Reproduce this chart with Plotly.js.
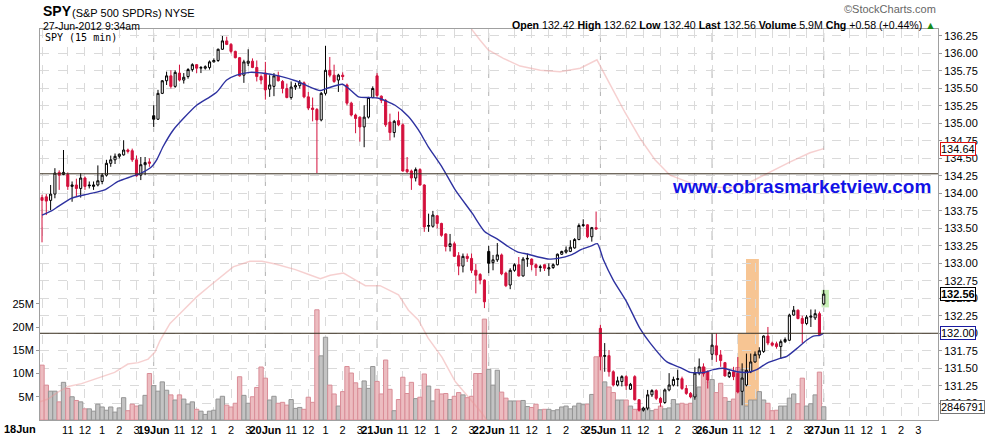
<!DOCTYPE html>
<html><head><meta charset="utf-8">
<script src="https://cdn.plot.ly/plotly-3.0.1.min.js"></script>
<style>html,body{margin:0;padding:0;background:#fff;}#chart{width:990px;height:438px;}</style>
</head><body><div id="chart"></div>
<script>
// ---------- categories / labels ----------
const dayLabels = ['18Jun','19Jun','20Jun','21Jun','22Jun','25Jun','26Jun','27Jun'];
const hourLabels = ['11','12','1','2','3'];
const hourClock = [11,12,13,14,15];
const barsPerDay = 26;
const barMinutes = 15;
const sessionOpenMin = 570; // 9:30
const volTicks = [5,10,15,20,25];

// ---------- 15-min OHLC (USD) ----------
const open18 = [133.94,133.95,133.90,133.99,134.30,134.27,134.27,134.10,134.12,134.07,134.22,134.12,134.10,134.12,134.17,134.26,134.43,134.48,134.53,134.55,134.62,134.61,134.48,134.26,134.41,134.45];
const high18 = [133.98,133.99,134.12,134.36,134.33,134.62,134.30,134.17,134.21,134.29,134.24,134.17,134.17,134.40,134.29,134.48,134.54,134.57,134.57,134.76,134.64,134.64,134.54,134.52,134.52,134.50];
const low18  = [133.30,133.69,133.76,133.93,134.05,134.26,134.05,133.88,133.95,133.94,134.05,134.07,134.05,134.10,134.13,134.24,134.38,134.42,134.50,134.54,134.57,134.45,134.24,134.19,134.26,134.38];
const close18= [133.90,133.89,133.99,134.29,134.26,134.30,134.10,134.12,134.07,134.22,134.10,134.11,134.12,134.18,134.26,134.43,134.48,134.53,134.56,134.62,134.60,134.48,134.25,134.41,134.44,134.43];

const open19 = [135.11,135.06,135.43,135.61,135.68,135.53,135.72,135.62,135.67,135.77,135.84,135.79,135.79,135.80,135.88,135.90,136.06,136.18,136.13,136.03,135.94,135.69,135.86,135.89,135.80,135.67];
const high19 = [135.26,135.48,135.62,135.74,135.76,135.76,135.84,135.72,135.79,135.86,135.85,135.82,135.83,135.90,135.93,136.07,136.25,136.24,136.15,136.04,135.95,135.91,136.06,135.93,135.90,135.70];
const low19  = [134.95,135.05,135.42,135.55,135.50,135.51,135.60,135.57,135.64,135.74,135.72,135.72,135.77,135.77,135.87,135.88,136.05,136.12,136.00,135.93,135.67,135.58,135.82,135.79,135.60,135.56];
const close19= [135.06,135.43,135.61,135.68,135.53,135.73,135.62,135.66,135.77,135.84,135.79,135.80,135.81,135.88,135.90,136.06,136.18,136.13,136.03,135.94,135.68,135.88,135.89,135.80,135.67,135.62];

const open20 = [135.72,135.49,135.53,135.68,135.60,135.50,135.37,135.52,135.54,135.58,135.38,135.22,135.20,135.05,135.43,135.76,135.69,135.62,135.69,135.55,135.29,135.12,135.09,134.95,135.09,135.37];
const high20 = [135.88,135.69,135.72,135.74,135.62,135.57,135.60,135.58,135.62,135.60,135.45,135.37,135.22,135.45,136.11,135.95,135.84,135.71,135.73,135.57,135.31,135.14,135.10,135.26,135.38,135.53];
const low20  = [135.34,135.38,135.39,135.60,135.43,135.36,135.34,135.48,135.50,135.36,135.19,135.03,134.29,135.03,135.40,135.66,135.58,135.45,135.62,135.26,135.10,134.86,134.74,134.66,135.07,135.36];
const close20= [135.48,135.55,135.68,135.61,135.50,135.37,135.52,135.54,135.59,135.38,135.22,135.20,135.05,135.43,135.76,135.69,135.60,135.69,135.67,135.29,135.12,135.07,134.95,135.09,135.37,135.50];

const open21 = [135.68,135.39,135.33,135.02,134.87,135.04,134.98,134.34,134.32,134.22,134.34,134.12,133.53,133.53,133.68,133.57,133.42,133.24,133.28,133.11,132.96,133.10,133.07,132.90,132.84,132.76];
const high21 = [135.72,135.40,135.35,135.14,135.05,135.17,135.00,134.52,134.34,134.37,134.36,134.13,133.71,133.75,133.69,133.58,133.43,133.42,133.31,133.16,133.14,133.14,133.14,132.99,132.86,132.77];
const low21  = [135.36,135.29,134.95,134.76,134.80,134.96,134.31,134.29,134.05,134.17,134.11,133.45,133.45,133.51,133.50,133.38,133.17,133.17,133.09,132.83,132.87,133.02,132.86,132.57,132.70,132.36];
const close21= [135.40,135.33,134.98,134.87,135.03,134.98,134.32,134.31,134.22,134.34,134.12,133.52,133.54,133.69,133.57,133.40,133.24,133.28,133.10,132.96,133.10,133.07,132.90,132.83,132.76,132.45];

const open22 = [133.17,133.01,133.05,133.12,132.86,132.69,132.90,132.98,132.82,133.06,133.06,132.98,132.94,132.98,132.92,132.94,132.98,133.13,133.16,133.17,133.22,133.34,133.54,133.55,133.38,133.51];
const high22 = [133.25,133.12,133.29,133.14,132.88,132.93,133.00,133.09,133.09,133.14,133.07,133.00,132.98,132.98,133.00,133.00,133.14,133.18,133.24,133.33,133.36,133.57,133.63,133.56,133.52,133.74];
const low22  = [132.86,132.90,133.02,132.83,132.66,132.63,132.88,132.81,132.81,132.95,132.90,132.82,132.88,132.89,132.82,132.92,132.97,133.12,133.14,133.16,133.21,133.33,133.52,133.36,133.31,133.48];
const close22= [133.00,133.05,133.12,132.85,132.68,132.90,132.98,132.82,133.06,133.07,132.98,132.94,132.95,132.93,132.935,132.98,133.13,133.17,133.19,133.23,133.34,133.54,133.55,133.38,133.51,133.49];

const open25 = [132.07,131.67,131.68,131.45,131.26,131.31,131.38,131.20,131.38,131.05,130.90,130.93,131.12,131.18,131.07,131.01,131.19,131.26,131.34,131.35,131.21,131.14,131.09,131.43,131.52,131.45];
const high25 = [132.12,131.86,131.76,131.47,131.38,131.40,131.40,131.29,131.40,131.06,130.95,131.19,131.20,131.20,131.09,131.21,131.43,131.38,131.48,131.38,131.26,131.16,131.52,131.64,131.57,131.47];
const low25  = [131.47,131.45,131.38,131.24,131.24,131.24,131.19,131.19,131.04,130.88,130.88,130.90,131.09,131.045,130.95,130.99,131.17,131.24,131.24,131.19,131.12,131.07,131.05,131.40,131.38,131.21];
const close25= [131.67,131.68,131.45,131.26,131.32,131.38,131.25,131.27,131.05,130.90,130.93,131.12,131.18,131.07,131.01,131.19,131.26,131.34,131.35,131.21,131.14,131.09,131.43,131.52,131.42,131.33];

const open26 = [131.70,131.82,131.69,131.58,131.38,131.45,131.43,131.17,131.26,131.45,131.59,131.69,131.74,131.96,131.86,131.85,131.81,131.88,131.90,132.26,132.33,132.21,132.14,132.23,132.22,132.28];
const high26 = [132.00,132.00,131.76,131.59,131.47,131.52,131.66,131.57,131.71,131.71,131.74,131.80,131.97,132.09,131.88,131.88,131.91,131.94,132.28,132.39,132.34,132.25,132.26,132.34,132.34,132.31];
const low26  = [131.62,131.59,131.52,131.38,131.36,131.33,131.14,130.97,131.24,131.43,131.58,131.64,131.72,131.83,131.81,131.78,131.64,131.86,131.89,132.25,132.20,131.86,132.12,132.09,132.19,131.97];
const close26= [131.83,131.69,131.61,131.39,131.44,131.38,131.16,131.36,131.47,131.59,131.70,131.75,131.96,131.86,131.83,131.81,131.88,131.91,132.26,132.33,132.21,132.14,132.23,132.245,132.28,131.98];

const open27 = [132.42];
const high27 = [132.62];
const low27  = [132.40];
const close27= [132.56];

// ---------- volume (millions of shares) ----------
const vol18 = [11.8,7.5,6.2,6.2,3.9,8.1,6.8,5.0,4.2,3.9,2.4,2.4,1.9,3.4,2.8,2.1,2.8,1.7,2.6,4.8,2.0,3.4,3.0,3.2,5.3,10.0];
const vol19 = [7.4,6.2,8.2,6.4,5.4,4.3,5.4,4.5,3.4,3.9,2.3,1.9,1.2,1.9,2.1,4.5,5.1,3.2,2.8,3.6,9.3,5.3,3.6,5.0,7.0,11.4];
const vol20 = [9.0,4.3,5.1,3.6,3.8,3.2,4.4,2.5,2.7,2.3,4.9,3.8,23.7,13.8,17.8,7.5,5.6,3.0,6.1,11.5,10.1,8.0,6.8,8.4,6.8,11.5];
const vol21 = [8.3,5.6,12.9,6.6,2.0,4.4,9.2,5.7,8.1,4.6,4.9,9.9,7.3,4.1,6.6,5.6,5.7,4.4,5.1,5.9,5.4,4.8,5.1,10.0,10.0,21.7];
const vol22 = [10.9,7.5,10.7,6.0,4.7,4.1,4.1,4.1,4.2,2.9,2.7,3.4,2.2,2.3,2.3,2.0,2.2,2.8,3.0,2.4,3.0,3.6,3.3,3.4,5.5,13.6];
const vol25 = [13.6,8.2,7.1,5.9,4.3,4.3,4.3,3.0,2.3,2.3,2.4,2.6,2.0,2.3,3.0,2.4,2.6,4.4,3.4,3.6,3.4,3.6,5.4,7.1,11.3,8.2];
const vol26 = [8.7,5.9,7.9,4.8,4.0,4.5,11.3,10.8,3.0,4.3,4.3,6.1,4.3,3.6,2.0,2.1,3.0,3.0,4.7,5.6,3.5,9.0,3.0,3.5,5.4,10.3];
const vol27 = [2.846791];

// ---------- moving average (bar index, price) ----------
const maBar   = [0,2.2,3.7,6.8,10.7,14.6,17.7,20.8,23.1,25.5,26.8,28.2,30.6,32.9,36.0,39.1,40.7,43.0,45.3,48.4,51.2,55.1,59.0,61.3,64.8,66.8,69.9,71.4,73.7,76.1,78.4,82.2,85.3,87.6,89.9,93.1,96.2,100.1,103.1,106.2,108.5,110.8,113.2,115.5,118.2,120.1,123.2,125.6,127.9,129.3,130.7,133.0,136.1,139.2,141.6,145.5,148.6,150.9,154.0,156.3,158.6,161.8,164.1,166.4,168.7,171.8,173.4,175.7,178.0,179.6,181.1,182];
const maPrice = [133.69,133.75,133.81,133.93,133.99,134.05,134.17,134.24,134.29,134.38,134.49,134.67,134.91,135.07,135.26,135.38,135.45,135.62,135.69,135.73,135.72,135.68,135.61,135.55,135.47,135.51,135.56,135.50,135.38,135.37,135.36,135.26,135.10,134.91,134.67,134.38,134.05,133.72,133.45,133.34,133.24,133.16,133.13,133.09,133.06,133.07,133.12,133.20,133.25,133.28,133.05,132.76,132.45,132.07,131.86,131.59,131.51,131.44,131.44,131.48,131.50,131.45,131.44,131.48,131.57,131.64,131.67,131.78,131.90,131.96,131.97,132.00];

// ---------- pink overlay line (bar index, price) ----------
const pinkLoBar   = [-0.5,1.4,3.7,6.1,9.2,13.0,16.9,20.0,22.4,24.7,26.3,27.5,29.8,32.9,36.0,39.1,42.2,44.5,48.4,51.2,54.3,59.0,62.1,64.8,67.1,70.2,73.0,75.3,78.7,83.0,85.3,87.6,89.9,93.1,96.2,99.3,102.4,104.3];
const pinkLoPrice = [131.02,131.06,131.16,131.24,131.28,131.36,131.44,131.56,131.58,131.63,131.73,131.90,132.14,132.33,132.52,132.68,132.83,132.95,133.03,133.03,132.99,132.91,132.84,132.78,132.83,132.86,132.76,132.68,132.68,132.55,132.33,132.19,131.93,131.66,131.31,131.09,130.86,130.69];
const pinkHiBar   = [99.2,100.1,102.0,103.9,107.4,111.3,116.0,120.6,125.3,129.2,132.3,135.7,139.2,142.7,146.2,150.9,155.5,160.2,164.8,169.5,174.2,178.8,182];
const pinkHiPrice = [136.48,136.34,136.19,136.05,135.93,135.82,135.76,135.74,135.79,135.91,135.55,135.16,134.79,134.48,134.26,134.15,134.09,134.08,134.16,134.31,134.45,134.58,134.64];

// ---------- drawn level lines (price) ----------
const levelUpper = 134.28;
const levelLower = 132.00;

// ---------- header values ----------
const symbol = 'SPY';
const symbolName = '(S&P 500 SPDRs) NYSE';
const stamp = '27-Jun-2012 9:34am';
const dayVolumeText = '5.9M';
const prevClose = 131.98;

// ---------- assemble ----------
const open  = [].concat(open18,open19,open20,open21,open22,open25,open26,open27);
const high  = [].concat(high18,high19,high20,high21,high22,high25,high26,high27);
const low   = [].concat(low18,low19,low20,low21,low22,low25,low26,low27);
const close = [].concat(close18,close19,close20,close21,close22,close25,close26,close27);
const vol   = [].concat(vol18,vol19,vol20,vol21,vol22,vol25,vol26,vol27);
const xs = close.map((_, i) => i);
const up = close.map((c, i) => i === 0 ? c >= open[0] : c >= close[i - 1]);

function pick(arr, flag){ return arr.filter((_, i) => up[i] === flag); }

const RED = '#d3103c';
const traces = [
  { type:'bar', x: xs, y: vol, xaxis:'x', yaxis:'y', width: 1,
    marker:{ color: up.map(u => u ? '#c3c3c3' : '#ecbcc0'),
             line:{ color: up.map(u => u ? '#959595' : '#d98d97'), width:1 } },
    hoverinfo:'skip', showlegend:false },
  { type:'scatter', mode:'lines', x: pinkLoBar, y: pinkLoPrice, yaxis:'y2',
    line:{ color:'rgba(236,150,150,0.45)', width:1.5 }, hoverinfo:'skip', showlegend:false },
  { type:'scatter', mode:'lines', x: pinkHiBar, y: pinkHiPrice, yaxis:'y2',
    line:{ color:'rgba(236,150,150,0.45)', width:1.5 }, hoverinfo:'skip', showlegend:false },
  { type:'scatter', mode:'lines', x: maBar, y: maPrice, yaxis:'y2',
    line:{ color:'#2e32a0', width:1.4, shape:'spline', smoothing:0.6 }, hoverinfo:'skip', showlegend:false },
  { type:'candlestick', x: pick(xs,true), open: pick(open,true), high: pick(high,true), low: pick(low,true), close: pick(close,true),
    yaxis:'y2', whiskerwidth:0,
    increasing:{ line:{ color:'#000', width:1 }, fillcolor:'#fff' },
    decreasing:{ line:{ color:'#000', width:1 }, fillcolor:'#000' },
    hoverinfo:'skip', showlegend:false },
  { type:'candlestick', x: pick(xs,false), open: pick(open,false), high: pick(high,false), low: pick(low,false), close: pick(close,false),
    yaxis:'y2', whiskerwidth:0,
    increasing:{ line:{ color:RED, width:1 }, fillcolor:'#fff' },
    decreasing:{ line:{ color:RED, width:1 }, fillcolor:RED },
    hoverinfo:'skip', showlegend:false }
];

// x ticks (first day label drawn separately, left of the plot edge)
const tickvals = [], ticktext = [];
dayLabels.forEach((d, k) => {
  tickvals.push(k * barsPerDay); ticktext.push(k === 0 ? '' : '<b>' + d + '</b>');
  hourClock.forEach((h, j) => {
    tickvals.push(k * barsPerDay + (h * 60 - sessionOpenMin) / barMinutes);
    ticktext.push(hourLabels[j]);
  });
});

const FONT = 'Liberation Sans, Arial, sans-serif';
const last = close.length - 1;
const chg = close[last] - prevClose;

const shapes = [];
dayLabels.forEach((d, k) => {
  if (k === 0) return;
  shapes.push({ type:'line', xref:'x', yref:'paper', x0:k*barsPerDay, x1:k*barsPerDay, y0:0, y1:1,
    line:{ color:'#b0b0b0', width:1, dash:'dash' }, layer:'below' });
});
// highlight boxes
shapes.push({ type:'rect', xref:'x', yref:'y2', x0:162.0, x1:165.0, y0:130.95, y1:132.00, fillcolor:'#f7c593', line:{width:0}, layer:'below' });
shapes.push({ type:'rect', xref:'x', yref:'y2', x0:163.9, x1:166.9, y0:131.00, y1:133.06, fillcolor:'#f7c593', line:{width:0}, layer:'below' });
shapes.push({ type:'rect', xref:'x', yref:'y2', x0:181.5, x1:183.2, y0:132.37, y1:132.62, fillcolor:'#c6efb4', line:{width:0}, layer:'below' });
// level lines
[levelUpper, levelLower].forEach(lv => {
  shapes.push({ type:'line', xref:'paper', yref:'y2', x0:0, x1:1, y0:lv, y1:lv, line:{color:'#3a3020', width:1}, layer:'above' });
});

const f2 = v => v.toFixed(2);
const annotations = [
  { xref:'paper', yref:'paper', x:0.001, y:1.045, xanchor:'left', yanchor:'middle', showarrow:false,
    text:'<b>' + symbol + '</b>', font:{ family:FONT, size:14, color:'#000' } },
  { xref:'paper', yref:'paper', x:0.0335, y:1.041, xanchor:'left', yanchor:'middle', showarrow:false,
    text:symbolName, font:{ family:FONT, size:11, color:'#000' } },
  { xref:'paper', yref:'paper', x:0.001, y:1.008, xanchor:'left', yanchor:'middle', showarrow:false,
    text:stamp, font:{ family:FONT, size:10.5, color:'#000' } },
  { xref:'paper', yref:'paper', x:1.0, y:1.050, xanchor:'right', yanchor:'middle', showarrow:false,
    text:'©StockCharts.com', font:{ family:FONT, size:11, color:'#666' } },
  { xref:'paper', yref:'paper', x:1.0, y:1.010, xanchor:'right', yanchor:'middle', showarrow:false,
    text:'<b>Open</b> ' + f2(open[last]) + ' <b>High</b> ' + f2(high[last]) + ' <b>Low</b> ' + f2(low[last]) +
         ' <b>Last</b> ' + f2(close[last]) + ' <b>Volume</b> ' + dayVolumeText + ' <b>Chg</b> +' + f2(chg) +
         ' (+' + (chg / prevClose * 100).toFixed(2) + '%) <span style="color:#1a8a1a">▲</span>',
    font:{ family:FONT, size:10.6, color:'#000' } },
  { xref:'paper', yref:'paper', x:0.003, y:0.997, xanchor:'left', yanchor:'top', showarrow:false,
    text:'SPY (15 min)', font:{ family:'DejaVu Sans Mono, monospace', size:10, color:'#000' }, bgcolor:'#fff' },
  { xref:'paper', yref:'paper', x:0.848, y:0.596, xanchor:'center', yanchor:'middle', showarrow:false,
    text:'<b>www.cobrasmarketview.com</b>', font:{ family:FONT, size:19, color:'#1212e6' } },
  { xref:'paper', yref:'paper', x:-0.002, y:-0.023, xanchor:'right', yanchor:'middle', showarrow:false,
    text:'<b>' + dayLabels[0] + '</b>', font:{ family:FONT, size:11, color:'#000' } },
  { xref:'paper', yref:'y2', x:1, y:pinkHiPrice[pinkHiPrice.length-1], xanchor:'left', yanchor:'middle', xshift:2, showarrow:false,
    text:f2(pinkHiPrice[pinkHiPrice.length-1]), font:{ family:FONT, size:11, color:'#000' }, bgcolor:'#fff', bordercolor:'#e01010', borderwidth:1, borderpad:0 },
  { xref:'paper', yref:'y2', x:1, y:close[last], xanchor:'left', yanchor:'middle', xshift:2, showarrow:false,
    text:'<b>' + f2(close[last]) + '</b>', font:{ family:FONT, size:11, color:'#000' }, bgcolor:'#fff', bordercolor:'#000', borderwidth:1, borderpad:0 },
  { xref:'paper', yref:'y2', x:1, y:maPrice[maPrice.length-1], xanchor:'left', yanchor:'middle', xshift:2, showarrow:false,
    text:f2(maPrice[maPrice.length-1]), font:{ family:FONT, size:11, color:'#000' }, bgcolor:'#fff', bordercolor:'#1a1aa0', borderwidth:1, borderpad:0 },
  { xref:'paper', yref:'y', x:1, y:vol[last], xanchor:'left', yanchor:'middle', xshift:2, showarrow:false,
    text:String(Math.round(vol[last] * 1e6)), font:{ family:FONT, size:11, color:'#000' }, bgcolor:'#fff', bordercolor:'#777', borderwidth:1, borderpad:0 }
];

const layout = {
  width: 990, height: 438,
  margin:{ l:40, r:52, t:29, b:18 },
  paper_bgcolor:'#fff', plot_bgcolor:'#fff',
  showlegend:false, dragmode:false,
  xaxis:{ range:[-0.47, 208.6], tickmode:'array', tickvals:tickvals, ticktext:ticktext, tickangle:0,
    tickfont:{ family:FONT, size:11, color:'#000' }, ticks:'', ticklen:0, automargin:false,
    showgrid:true, gridcolor:'#dadada', griddash:'dash', gridwidth:1,
    showline:true, linecolor:'#a0a0a0', linewidth:1, mirror:true, zeroline:false,
    rangeslider:{ visible:false }, fixedrange:true },
  yaxis:{ range:[0, 84.1], side:'left', tickmode:'array', tickvals:volTicks, ticktext:volTicks.map(v => v + 'M'),
    tickfont:{ family:FONT, size:11, color:'#000' }, ticks:'outside', ticklen:3, tickcolor:'#999', automargin:false,
    showgrid:false, zeroline:false, showline:true, linecolor:'#a0a0a0', linewidth:1, fixedrange:true },
  yaxis2:{ overlaying:'y', side:'right', range:[130.76, 136.35], tick0:0, dtick:0.25, tickformat:'.2f', automargin:false,
    tickfont:{ family:FONT, size:11, color:'#000' }, ticks:'outside', ticklen:3, tickcolor:'#999',
    showgrid:true, gridcolor:'#dadada', griddash:'dash', gridwidth:1,
    zeroline:false, showline:true, linecolor:'#a0a0a0', linewidth:1, fixedrange:true },
  shapes: shapes,
  annotations: annotations
};

Plotly.newPlot('chart', traces, layout, { staticPlot:true, displayModeBar:false });
</script>
</body></html>
